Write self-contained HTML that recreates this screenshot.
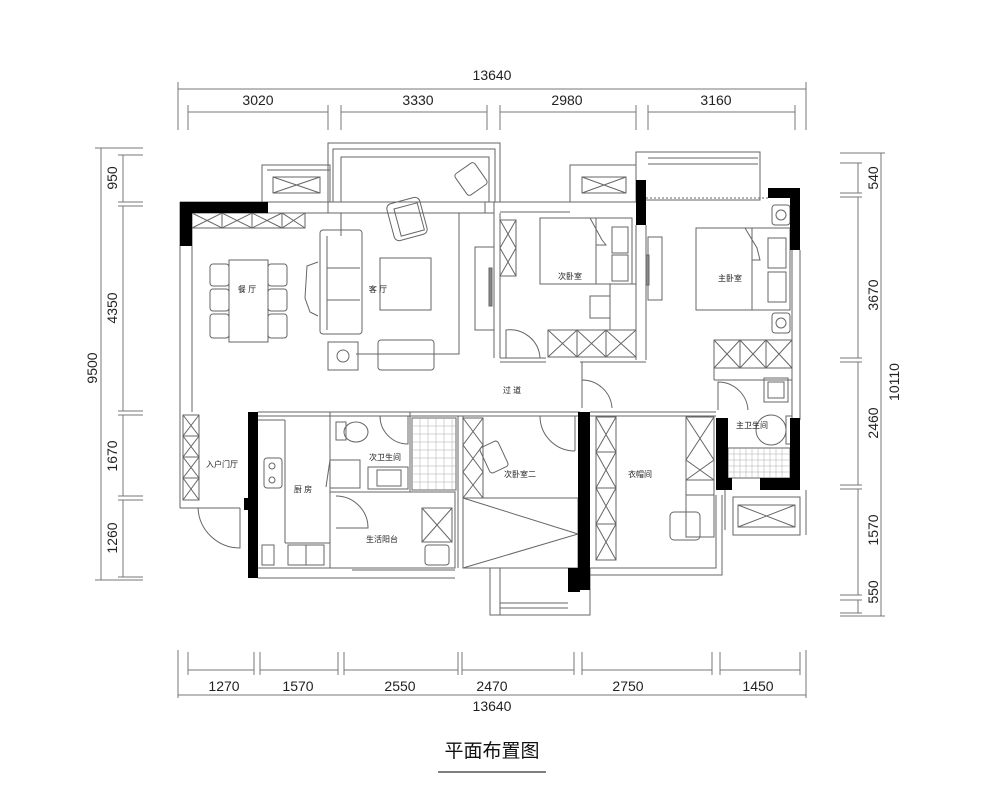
<!DOCTYPE html>
<html><head><meta charset="utf-8"><style>
html,body{margin:0;padding:0;background:#fff;}
svg{display:block;}
text{font-family:"Liberation Sans","Noto Sans CJK SC",sans-serif;fill:#222;}
.d{font-size:14px;fill:#333;}
.r{font-size:8px;fill:#333;}
</style></head><body>
<svg width="1000" height="790" viewBox="0 0 1000 790" xmlns="http://www.w3.org/2000/svg">
<defs>
<g id="t"><line x1="-3" y1="3" x2="3" y2="-3" stroke="#333" stroke-width="1"/></g>
</defs>
<g stroke="#777" stroke-width="1" fill="none">
<!-- top dims -->
<line x1="178" y1="89" x2="806" y2="89"/>
<line x1="188" y1="112" x2="328" y2="112"/><line x1="341" y1="112" x2="487" y2="112"/>
<line x1="500" y1="112" x2="636" y2="112"/><line x1="648" y1="112" x2="795" y2="112"/>
<line x1="178" y1="82" x2="178" y2="130"/><line x1="806" y1="82" x2="806" y2="130"/>
<line x1="188" y1="105" x2="188" y2="130"/><line x1="328" y1="105" x2="328" y2="130"/>
<line x1="341" y1="105" x2="341" y2="130"/><line x1="487" y1="105" x2="487" y2="130"/>
<line x1="500" y1="105" x2="500" y2="130"/><line x1="636" y1="105" x2="636" y2="130"/>
<line x1="648" y1="105" x2="648" y2="130"/><line x1="795" y1="105" x2="795" y2="130"/>
<!-- left dims -->
<line x1="101" y1="148" x2="101" y2="580"/>
<line x1="123" y1="155" x2="123" y2="202"/><line x1="123" y1="206" x2="123" y2="411"/>
<line x1="123" y1="415" x2="123" y2="496"/><line x1="123" y1="500" x2="123" y2="577"/>
<line x1="95" y1="148" x2="143" y2="148"/><line x1="95" y1="580" x2="143" y2="580"/>
<line x1="118" y1="155" x2="143" y2="155"/><line x1="118" y1="202" x2="143" y2="202"/>
<line x1="118" y1="206" x2="143" y2="206"/><line x1="118" y1="411" x2="143" y2="411"/>
<line x1="118" y1="415" x2="143" y2="415"/><line x1="118" y1="496" x2="143" y2="496"/>
<line x1="118" y1="500" x2="143" y2="500"/><line x1="118" y1="577" x2="143" y2="577"/>
<!-- right dims -->
<line x1="881" y1="153" x2="881" y2="616"/>
<line x1="858" y1="163" x2="858" y2="193"/><line x1="858" y1="197" x2="858" y2="358"/>
<line x1="858" y1="362" x2="858" y2="485"/><line x1="858" y1="489" x2="858" y2="595"/>
<line x1="858" y1="600" x2="858" y2="613"/>
<line x1="840" y1="153" x2="885" y2="153"/><line x1="840" y1="616" x2="885" y2="616"/>
<line x1="840" y1="163" x2="862" y2="163"/><line x1="840" y1="193" x2="862" y2="193"/>
<line x1="840" y1="197" x2="862" y2="197"/><line x1="840" y1="358" x2="862" y2="358"/>
<line x1="840" y1="362" x2="862" y2="362"/><line x1="840" y1="485" x2="862" y2="485"/>
<line x1="840" y1="489" x2="862" y2="489"/><line x1="840" y1="595" x2="862" y2="595"/>
<line x1="840" y1="600" x2="862" y2="600"/><line x1="840" y1="613" x2="862" y2="613"/>
<!-- bottom dims -->
<line x1="178" y1="695" x2="806" y2="695"/>
<line x1="188" y1="670" x2="254" y2="670"/><line x1="260" y1="670" x2="338" y2="670"/>
<line x1="344" y1="670" x2="458" y2="670"/><line x1="462" y1="670" x2="574" y2="670"/>
<line x1="582" y1="670" x2="712" y2="670"/><line x1="720" y1="670" x2="800" y2="670"/>
<line x1="178" y1="650" x2="178" y2="698"/><line x1="806" y1="650" x2="806" y2="698"/>
<g>
<line x1="188" y1="652" x2="188" y2="675"/><line x1="254" y1="652" x2="254" y2="675"/>
<line x1="260" y1="652" x2="260" y2="675"/><line x1="338" y1="652" x2="338" y2="675"/>
<line x1="344" y1="652" x2="344" y2="675"/><line x1="458" y1="652" x2="458" y2="675"/>
<line x1="462" y1="652" x2="462" y2="675"/><line x1="574" y1="652" x2="574" y2="675"/>
<line x1="582" y1="652" x2="582" y2="675"/><line x1="712" y1="652" x2="712" y2="675"/>
<line x1="720" y1="652" x2="720" y2="675"/><line x1="800" y1="652" x2="800" y2="675"/>
</g>
</g>
<g class="d" text-anchor="middle">
<text x="492" y="80">13640</text>
<text x="258" y="105">3020</text><text x="418" y="105">3330</text>
<text x="567" y="105">2980</text><text x="716" y="105">3160</text>
<text x="224" y="691">1270</text><text x="298" y="691">1570</text><text x="400" y="691">2550</text>
<text x="492" y="691">2470</text><text x="628" y="691">2750</text><text x="758" y="691">1450</text>
<text x="492" y="711">13640</text>
<text transform="translate(97,368) rotate(-90)">9500</text>
<text transform="translate(117,178) rotate(-90)">950</text>
<text transform="translate(117,308) rotate(-90)">4350</text>
<text transform="translate(117,456) rotate(-90)">1670</text>
<text transform="translate(117,538) rotate(-90)">1260</text>
<text transform="translate(878,178) rotate(-90)">540</text>
<text transform="translate(878,295) rotate(-90)">3670</text>
<text transform="translate(878,423) rotate(-90)">2460</text>
<text transform="translate(878,530) rotate(-90)">1570</text>
<text transform="translate(878,592) rotate(-90)">550</text>
<text transform="translate(899,382) rotate(-90)">10110</text>
</g>

<!-- PLAN -->
<g stroke="#666" stroke-width="1" fill="none">
<!-- top wall -->
<line x1="180" y1="202" x2="500" y2="202"/><line x1="192" y1="213" x2="494" y2="213"/>
<line x1="180" y1="202" x2="180" y2="508"/><line x1="192" y1="213" x2="192" y2="412"/>
<!-- left-top balcony -->
<rect x="262" y="165" width="68" height="37"/><line x1="267" y1="170" x2="330" y2="170"/>
<rect x="273" y="177" width="47" height="16"/><path d="M273 177L320 193M320 177L273 193"/>
<!-- living balcony -->
<rect x="328" y="143" width="172" height="59"/><rect x="333" y="149" width="162" height="53"/><rect x="341" y="157" width="148" height="45"/>
<line x1="328" y1="202" x2="328" y2="213"/><line x1="485" y1="202" x2="485" y2="213"/>
<!-- dining cabinet -->
<rect x="192" y="213" width="113" height="15"/><path d="M192 213L222 228L252 213L282 228L305 213M192 228L222 213L252 228L282 213L305 228"/>
<line x1="222" y1="213" x2="222" y2="228"/><line x1="252" y1="213" x2="252" y2="228"/><line x1="282" y1="213" x2="282" y2="228"/>
<!-- dining table -->
<rect x="229" y="260" width="39" height="82"/>
<rect x="210" y="264" width="19" height="22" rx="3"/><rect x="210" y="289" width="19" height="22" rx="3"/><rect x="210" y="314" width="19" height="24" rx="3"/>
<rect x="268" y="264" width="19" height="22" rx="3"/><rect x="268" y="289" width="19" height="22" rx="3"/><rect x="268" y="314" width="19" height="24" rx="3"/>
<!-- sofa -->
<rect x="320" y="230" width="42" height="104" rx="3"/><line x1="327" y1="236" x2="327" y2="330"/>
<line x1="327" y1="268" x2="360" y2="268"/><line x1="327" y1="300" x2="360" y2="300"/>
<path d="M318 262L307 266L305 298L310 312L318 316"/>
<!-- rug/area -->
<path d="M341 236V213M341 213H459V354H356"/>
<rect x="380" y="258" width="51" height="52"/>
<rect x="378" y="340" width="56" height="30" rx="3"/>
<rect x="328" y="342" width="30" height="28"/><circle cx="343" cy="356" r="6"/>
<!-- armchairs -->
<rect x="390" y="200" width="34" height="38" rx="5" transform="rotate(-15 407 219)"/>
<rect x="397" y="206" width="24" height="28" transform="rotate(-15 407 219)"/>
<rect x="459" y="166" width="24" height="26" rx="3" transform="rotate(-35 471 179)"/>
<!-- TV living -->
<rect x="475" y="247" width="19" height="83"/><rect x="489" y="268" width="3" height="38" fill="#888"/>
<line x1="494" y1="202" x2="494" y2="358"/><line x1="500" y1="213" x2="500" y2="358"/>
<!-- bedroom 2 -->
<line x1="500" y1="212" x2="570" y2="212"/><line x1="500" y1="202" x2="570" y2="202"/>
<rect x="570" y="165" width="66" height="37"/><rect x="582" y="177" width="44" height="16"/><path d="M582 177L626 193M626 177L582 193"/>
<rect x="500" y="220" width="16" height="56"/><path d="M500 220L516 248L500 276M516 220L500 248L516 276"/>
<rect x="540" y="218" width="92" height="66"/><line x1="596" y1="218" x2="596" y2="284"/>
<path d="M590 218L602 240L606 245L596 245"/>
<rect x="612" y="227" width="16" height="26"/><rect x="612" y="255" width="16" height="26"/>
<rect x="590" y="296" width="20" height="22"/><rect x="610" y="284" width="26" height="46"/>
<rect x="548" y="330" width="88" height="27"/><path d="M548 330L577 357L606 330L636 357M548 357L577 330L606 357L636 330"/>
<line x1="577" y1="330" x2="577" y2="357"/><line x1="606" y1="330" x2="606" y2="357"/>
<path d="M506 358V330A30 30 0 0 1 540 358"/>
<line x1="500" y1="358" x2="546" y2="358"/><line x1="500" y1="362" x2="546" y2="362"/>
<line x1="636" y1="225" x2="636" y2="360"/><line x1="646" y1="225" x2="646" y2="360"/>
<line x1="580" y1="362" x2="646" y2="362"/>
<!-- master balcony -->
<rect x="636" y="152" width="124" height="48"/><line x1="648" y1="158" x2="758" y2="158"/><line x1="648" y1="164" x2="758" y2="164"/>
<line x1="646" y1="198" x2="768" y2="198" stroke-dasharray="2 2"/>
<line x1="760" y1="152" x2="760" y2="188"/>
<!-- master tv -->
<rect x="648" y="237" width="14" height="63"/><rect x="646" y="255" width="3" height="30" fill="#888"/>
<!-- master bed -->
<rect x="696" y="228" width="94" height="82"/><line x1="752" y1="228" x2="752" y2="310"/>
<path d="M745 228L757 248L760 260L752 260"/>
<rect x="768" y="238" width="18" height="30"/><rect x="768" y="272" width="18" height="30"/>
<rect x="772" y="205" width="18" height="20" rx="3"/><circle cx="781" cy="215" r="5"/>
<rect x="772" y="313" width="18" height="20" rx="3"/><circle cx="781" cy="323" r="5"/>
<rect x="714" y="340" width="78" height="28"/><path d="M714 340L740 368L766 340L792 368M714 368L740 340L766 368L792 340"/>
<line x1="740" y1="340" x2="740" y2="368"/><line x1="766" y1="340" x2="766" y2="368"/>
<line x1="800" y1="250" x2="800" y2="420"/><line x1="792" y1="250" x2="792" y2="420"/>
<line x1="714" y1="368" x2="714" y2="380"/><line x1="714" y1="380" x2="792" y2="380"/>
<!-- master bath -->
<rect x="764" y="378" width="24" height="24"/><rect x="768" y="382" width="16" height="16"/>
<path d="M718 410V382A30 30 0 0 1 748 410"/>
<path d="M756 430A10 10 0 1 0 786 430A10 10 0 1 0 756 430Z"/><rect x="786" y="416" width="6" height="28"/>
<rect x="728" y="448" width="62" height="30"/>
<g stroke="#aaa" stroke-width="0.5">
<path d="M728 454H790M728 460H790M728 466H790M728 472H790M734 448V478M740 448V478M746 448V478M752 448V478M758 448V478M764 448V478M770 448V478M776 448V478M782 448V478"/>
</g>
<rect x="733" y="497" width="67" height="38"/><rect x="738" y="505" width="57" height="22"/><path d="M738 505L795 527M795 505L738 527"/>
<line x1="725" y1="490" x2="725" y2="530"/><line x1="806" y1="490" x2="806" y2="535"/>
<!-- corridor / lower top wall -->
<line x1="258" y1="412" x2="580" y2="412"/><line x1="258" y1="416" x2="580" y2="416"/>
<line x1="590" y1="412" x2="716" y2="412"/><line x1="590" y1="416" x2="716" y2="416"/>
<path d="M582 408V380A30 30 0 0 1 612 408"/>
<path d="M582 362V390"/>
<!-- entry -->
<rect x="183" y="415" width="16" height="85"/><path d="M183 415L199 436L183 457L199 478L183 500M199 415L183 436L199 457L183 478L199 500"/>
<line x1="183" y1="436" x2="199" y2="436"/><line x1="183" y1="457" x2="199" y2="457"/><line x1="183" y1="478" x2="199" y2="478"/>
<path d="M198 508A42 42 0 0 0 240 548V508"/>
<line x1="180" y1="508" x2="240" y2="508"/><line x1="240" y1="508" x2="240" y2="548"/>
<!-- kitchen -->
<line x1="258" y1="420" x2="285" y2="420"/><line x1="285" y1="420" x2="285" y2="543"/><line x1="285" y1="543" x2="330" y2="543"/>
<rect x="264" y="458" width="18" height="30" rx="3"/><circle cx="272" cy="466" r="3"/><circle cx="272" cy="480" r="3"/>
<rect x="288" y="545" width="36" height="20"/><line x1="306" y1="545" x2="306" y2="565"/>
<rect x="262" y="545" width="12" height="20"/>
<rect x="330" y="460" width="30" height="28"/><line x1="330" y1="460" x2="326" y2="487"/>
<!-- bath 2 -->
<rect x="330" y="412" width="80" height="80"/><rect x="336" y="422" width="10" height="18"/>
<ellipse cx="356" cy="432" rx="12" ry="10"/>
<path d="M380 416A28 28 0 0 0 408 444V416"/>
<rect x="368" y="467" width="40" height="22"/><rect x="377" y="470" width="24" height="16"/>
<rect x="412" y="418" width="44" height="72"/>
<g stroke="#aaa" stroke-width="0.5"><path d="M412 426H456M412 434H456M412 442H456M412 450H456M412 458H456M412 466H456M412 474H456M412 482H456M420 418V490M428 418V490M436 418V490M444 418V490M452 418V490"/></g>
<line x1="410" y1="412" x2="410" y2="492"/>
<!-- service balcony -->
<rect x="330" y="492" width="125" height="76"/>
<path d="M336 496A32 32 0 0 1 368 528H336"/>
<rect x="422" y="508" width="30" height="34"/><path d="M422 508L452 542M452 508L422 542"/>
<rect x="425" y="545" width="24" height="20" rx="3"/>
<line x1="258" y1="568" x2="455" y2="568"/><line x1="258" y1="578" x2="455" y2="578"/>
<line x1="352" y1="570" x2="455" y2="570"/>
<!-- bedroom 3 -->
<line x1="458" y1="416" x2="458" y2="568"/><line x1="463" y1="416" x2="463" y2="568"/>
<rect x="463" y="418" width="20" height="80"/>
<path d="M463 418L483 445L463 472L483 498M483 418L463 445L483 472L463 498"/>
<path d="M540 416A35 35 0 0 0 575 451"/><line x1="575" y1="416" x2="575" y2="451"/>
<rect x="484" y="443" width="20" height="28" rx="3" transform="rotate(-25 494 457)"/>
<rect x="463" y="498" width="115" height="70"/><path d="M463 498L578 534L463 568"/>
<rect x="490" y="568" width="100" height="47"/><line x1="500" y1="568" x2="500" y2="615"/>
<line x1="500" y1="603" x2="568" y2="603"/><line x1="500" y1="608" x2="568" y2="608"/>
<!-- closet -->
<rect x="596" y="417" width="20" height="143"/>
<path d="M596 417L616 452L596 488L616 524L596 560M616 417L596 452L616 488L596 524L616 560"/>
<line x1="596" y1="452" x2="616" y2="452"/><line x1="596" y1="488" x2="616" y2="488"/><line x1="596" y1="524" x2="616" y2="524"/>
<rect x="686" y="417" width="28" height="120"/>
<path d="M686 417L714 460L686 480M714 417L686 460L714 480"/><line x1="686" y1="480" x2="714" y2="480"/><line x1="686" y1="495" x2="714" y2="495"/>
<rect x="670" y="512" width="30" height="28" rx="4"/>
<path d="M590 568H716V495M590 575H722V495"/>
</g>
<!-- black walls -->
<g fill="#000">
<rect x="180" y="202" width="88" height="11"/><rect x="180" y="202" width="12" height="44"/>
<rect x="636" y="180" width="10" height="45"/>
<rect x="768" y="188" width="32" height="10"/><rect x="790" y="188" width="10" height="62"/>
<rect x="248" y="412" width="10" height="166"/><rect x="244" y="498" width="6" height="12"/>
<rect x="578" y="412" width="12" height="178"/><rect x="568" y="568" width="12" height="24"/>
<rect x="716" y="418" width="12" height="72"/><rect x="716" y="478" width="16" height="12"/>
<rect x="790" y="418" width="10" height="72"/><rect x="760" y="478" width="40" height="12"/>
</g>
<!-- room labels -->
<g class="r" text-anchor="middle">
<text x="247" y="292">餐 厅</text><text x="378" y="292">客 厅</text>
<text x="570" y="279">次卧室</text><text x="730" y="281">主卧室</text>
<text x="512" y="393">过 道</text><text x="222" y="467">入户门厅</text>
<text x="303" y="492">厨 房</text><text x="385" y="460">次卫生间</text>
<text x="382" y="542">生活阳台</text><text x="520" y="477">次卧室二</text>
<text x="640" y="477">衣帽间</text><text x="752" y="428">主卫生间</text>
</g>
<text x="492" y="757" text-anchor="middle" style="font-size:19px;fill:#111">平面布置图</text>
<line x1="438" y1="772" x2="546" y2="772" stroke="#555" stroke-width="1.5"/>
</svg>
</body></html>
